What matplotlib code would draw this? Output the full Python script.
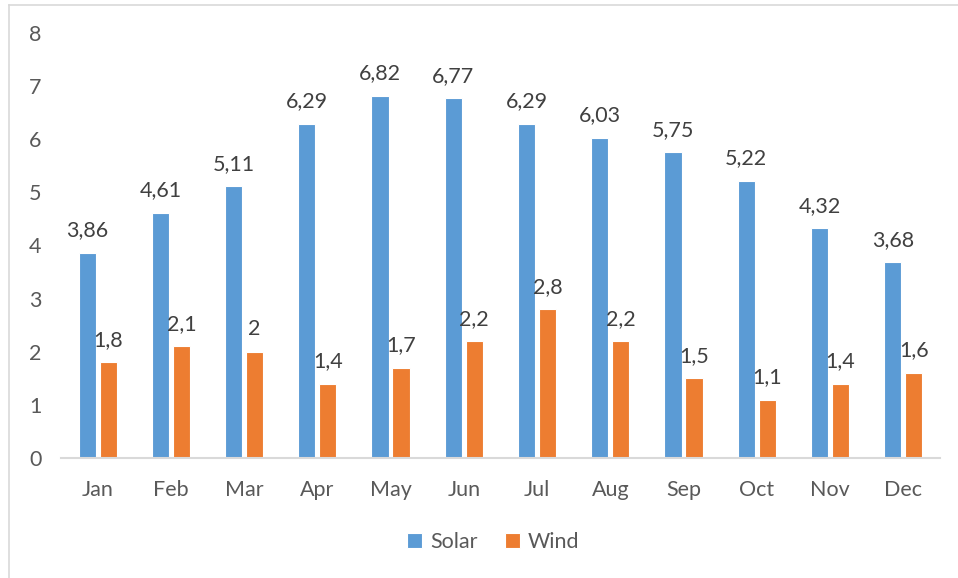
import numpy as np
import matplotlib.pyplot as plt
from matplotlib.lines import Line2D

months = ["Jan", "Feb", "Mar", "Apr", "May", "Jun", "Jul", "Aug", "Sep", "Oct", "Nov", "Dec"]
solar = [3.86, 4.61, 5.11, 6.29, 6.82, 6.77, 6.29, 6.03, 5.75, 5.22, 4.32, 3.68]
wind = [1.8, 2.1, 2.0, 1.4, 1.7, 2.2, 2.8, 2.2, 1.5, 1.1, 1.4, 1.6]

plt.rcParams["font.family"] = ["Lato", "DejaVu Sans"]
txt = "#595959"
blue = "#5B9BD5"
orange = "#ED7D31"
fs = 15.5

fig = plt.figure(figsize=(9.58, 5.78), dpi=100)
ax = fig.add_axes([0.0637, 0.2076, 0.9173, 0.7354])

x = np.arange(len(months))
w = 0.235
off = 0.143
b1 = ax.bar(x - off, solar, w, color=blue, edgecolor="white", linewidth=0.8, label="Solar")
b2 = ax.bar(x + off, wind, w, color=orange, edgecolor="white", linewidth=0.8, label="Wind")

def fmt(v):
    s = f"{v:.2f}".rstrip("0").rstrip(".")
    return s.replace(".", ",")

for bars, vals in ((b1, solar), (b2, wind)):
    for r, v in zip(bars, vals):
        ax.annotate(fmt(v), (r.get_x() + r.get_width() / 2, v), xytext=(0, 9),
                    textcoords="offset points", ha="center", va="bottom",
                    fontsize=fs, color="#404040")

ax.set_xlim(-0.5, len(months) - 0.5)
ax.set_ylim(0, 8)
ax.set_yticks(range(0, 9))
ax.set_xticks(x)
ax.set_xticklabels(months)
ax.tick_params(axis="both", length=0, labelsize=fs, colors=txt)
ax.tick_params(axis="y", pad=14)
ax.tick_params(axis="x", pad=16)
for s in ["top", "right", "left"]:
    ax.spines[s].set_visible(False)
ax.spines["bottom"].set_color("#d9d9d9")
ax.spines["bottom"].set_linewidth(1.5)

leg = fig.legend(handles=[b1, b2], loc="center", bbox_to_anchor=(0.515, 0.062), ncol=2,
                 frameon=False, fontsize=fs, handlelength=0.7, handleheight=0.7,
                 handletextpad=0.35, columnspacing=1.3)
for t in leg.get_texts():
    t.set_color(txt)

# light frame around the chart area
fig.add_artist(Line2D([9 / 958, 9 / 958], [0, 1 - 5 / 578], color="#d9d9d9", lw=1.2))
fig.add_artist(Line2D([9 / 958, 1], [1 - 5 / 578, 1 - 5 / 578], color="#d9d9d9", lw=1.2))

fig.savefig("out.png", dpi=100)
